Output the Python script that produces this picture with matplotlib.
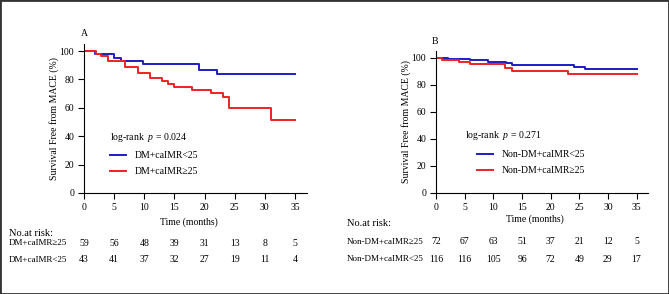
import matplotlib
matplotlib.use("Agg")
from matplotlib import pyplot as plt
from matplotlib.transforms import blended_transform_factory
from matplotlib.patches import Rectangle

plt.rcParams['font.family'] = ['Liberation Serif', 'DejaVu Serif']
plt.rcParams['mathtext.fontset'] = 'custom'
plt.rcParams['mathtext.rm'] = 'Liberation Serif'
plt.rcParams['mathtext.it'] = 'Liberation Serif:italic'

# panel A : DM
a_low_t = [0, 1.8, 5.0, 6.1, 9.8, 19.0, 22.1, 35]
a_low_s = [100, 97.7, 95.3, 93.0, 90.7, 87.0, 83.8, 83.8]
a_high_t = [0, 2.0, 2.9, 4.0, 6.8, 9.0, 11.0, 13.0, 14.0, 15.0, 18.0, 21.0, 23.0, 24.1, 31.1, 35]
a_high_s = [100, 98.3, 96.6, 93.2, 88.9, 84.7, 80.8, 78.6, 76.8, 74.9, 72.9, 70.2, 67.4, 60.1, 51.4, 51.4]

# panel B : Non-DM
b_low_t = [0, 2.1, 6.0, 9.1, 12.2, 13.2, 24.0, 26.0, 35]
b_low_s = [100, 99.1, 98.0, 97.0, 96.0, 95.0, 93.5, 91.4, 91.4]
b_high_t = [0, 1.0, 4.1, 6.0, 12.0, 13.2, 23.0, 35]
b_high_s = [100, 98.5, 97.0, 95.6, 92.5, 90.4, 87.7, 87.7]

risk_times = [0, 5, 10, 15, 20, 25, 30, 35]
a_risk_high = [59, 56, 48, 39, 31, 13, 8, 5]
a_risk_low = [43, 41, 37, 32, 27, 19, 11, 4]
b_risk_high = [72, 67, 63, 51, 37, 21, 12, 5]
b_risk_low = [116, 116, 105, 96, 72, 49, 29, 17]

BLUE = '#1c1cc4'
RED = '#ee2222'
W, H = 669, 294


def fy(py):
    # ligne en pixels (depuis le haut) -> fraction de la figure
    return 1 - py / H


def panneau(fig, rect, lettre, lettre_pos, t_low, s_low, t_high, s_high,
            lab_low, lab_high, pval, txt_pos, leg_pos, xlab_y):
    ax = fig.add_axes(rect)
    ax.step(t_low, s_low, where='post', color=BLUE, lw=1.4, label=lab_low)
    ax.step(t_high, s_high, where='post', color=RED, lw=1.4, label=lab_high)
    ax.set_xlim(0, 37)
    ax.set_ylim(0, 105)
    ax.set_xticks(risk_times)
    ax.set_yticks([0, 20, 40, 60, 80, 100])
    for s in ['top', 'right']:
        ax.spines[s].set_visible(False)
    for s in ['left', 'bottom']:
        ax.spines[s].set_linewidth(0.8)
    ax.tick_params(labelsize=7, length=4, width=0.8, pad=3)
    ax.set_ylabel('Survival Free from MACE (%)', fontsize=7, labelpad=0.5)
    fig.text(rect[0] + rect[2] * 0.5 - 0.01, fy(xlab_y), 'Time (months)',
             fontsize=7, ha='center', va='center')
    fig.text(lettre_pos[0] / W, fy(lettre_pos[1]), lettre, fontsize=7,
             ha='left', va='center')
    fig.text(txt_pos[0] / W, fy(txt_pos[1]), 'log-rank  $p$ = ' + pval,
             fontsize=7, ha='left', va='center')
    ax.legend(loc='upper left', bbox_to_anchor=(leg_pos[0] / W, fy(leg_pos[1])),
              bbox_transform=fig.transFigure, frameon=False, fontsize=7,
              handlelength=1.6, handletextpad=0.9, labelspacing=0.75,
              borderpad=0, borderaxespad=0)
    return ax


def tableRisque(fig, ax, lab_x, titre_y, lignes):
    tr = blended_transform_factory(ax.transData, fig.transFigure)
    fig.text(lab_x / W, fy(titre_y), 'No.at risk:', fontsize=7.5,
             ha='left', va='center')
    for nom, valeurs, py in lignes:
        fig.text(lab_x / W, fy(py), nom, fontsize=6.5, ha='left', va='center')
        for t, v in zip(risk_times, valeurs):
            ax.text(t, fy(py), str(v), transform=tr, fontsize=7,
                    ha='center', va='center')


fig = plt.figure(figsize=(W / 100, H / 100), dpi=100)

axA = panneau(fig, [84 / W, fy(193), 223 / W, 149 / H], 'A', (81, 34),
              a_low_t, a_low_s, a_high_t, a_high_s,
              'DM+caIMR<25', 'DM+caIMR\u226525', '0.024',
              (110, 137), (110, 151), 222)
axB = panneau(fig, [436 / W, fy(193), 212 / W, 142 / H], 'B', (432, 42),
              b_low_t, b_low_s, b_high_t, b_high_s,
              'Non-DM+caIMR<25', 'Non-DM+caIMR\u226525', '0.271',
              (465, 135), (477, 150), 219)

tableRisque(fig, axA, 9, 233, [('DM+caIMR\u226525', a_risk_high, 243),
                                ('DM+caIMR<25', a_risk_low, 260)])
tableRisque(fig, axB, 347, 223, [('Non-DM+caIMR\u226525', b_risk_high, 242),
                                  ('Non-DM+caIMR<25', b_risk_low, 259)])

fig.patches.append(Rectangle((0, 0), 1, 1, transform=fig.transFigure,
                             fill=False, lw=2, ec='#333333'))

fig.savefig('out.png', dpi=100)
